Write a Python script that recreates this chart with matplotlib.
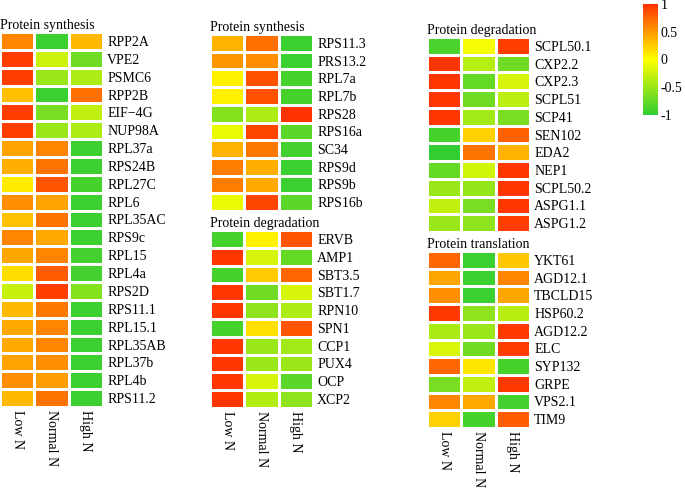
import numpy as np
import matplotlib
matplotlib.use("Agg")
import matplotlib.pyplot as plt
from matplotlib.colors import LinearSegmentedColormap

plt.rcParams['font.family'] = ['Liberation Serif', 'DejaVu Serif']
plt.rcParams['axes.unicode_minus'] = False

# Data
conditions = ["Low N", "Normal N", "High N"]

synth1_genes = ["RPP2A", "VPE2", "PSMC6", "RPP2B", "EIF−4G", "NUP98A", "RPL37a",
                "RPS24B", "RPL27C", "RPL6", "RPL35AC", "RPS9c", "RPL15", "RPL4a",
                "RPS2D", "RPS11.1", "RPL15.1", "RPL35AB", "RPL37b", "RPL4b", "RPS11.2"]
synth1_vals = [[0.60, -0.95, 0.35],
               [0.95, -0.25, -0.70],
               [0.95, -0.50, -0.40],
               [0.32, -0.95, 0.70],
               [0.95, -0.65, -0.30],
               [0.95, -0.50, -0.40],
               [0.45, 0.60, -0.95],
               [0.40, 0.68, -0.95],
               [0.10, 0.83, -0.90],
               [0.55, 0.45, -0.95],
               [0.30, 0.68, -0.95],
               [0.60, 0.42, -0.95],
               [0.44, 0.60, -0.92],
               [0.17, 0.80, -0.92],
               [-0.28, 0.95, -0.60],
               [0.34, 0.65, -0.95],
               [0.42, 0.60, -0.95],
               [0.42, 0.60, -0.95],
               [0.45, 0.55, -0.95],
               [0.55, 0.47, -0.95],
               [0.34, 0.68, -0.95]]

synth2_genes = ["RPS11.3", "PRS13.2", "RPL7a", "RPL7b", "RPS28", "RPS16a",
                "SC34", "RPS9d", "RPS9b", "RPS16b"]
synth2_vals = [[0.37, 0.70, -0.95],
               [0.50, 0.55, -0.95],
               [0.07, 0.85, -0.90],
               [0.07, 0.85, -0.90],
               [-0.60, -0.40, 1.00],
               [-0.10, 0.90, -0.80],
               [0.37, 0.65, -0.92],
               [0.63, 0.40, -0.95],
               [0.63, 0.42, -0.95],
               [-0.10, 0.90, -0.80]]

degr1_genes = ["ERVB", "AMP1", "SBT3.5", "SBT1.7", "RPN10", "SPN1", "CCP1",
               "PUX4", "OCP", "XCP2"]
degr1_vals = [[-0.90, 0.07, 0.83],
              [0.98, -0.20, -0.75],
              [-0.90, 0.25, 0.75],
              [0.98, -0.70, -0.20],
              [0.98, -0.55, -0.40],
              [-0.90, 0.15, 0.83],
              [0.98, -0.50, -0.45],
              [0.98, -0.50, -0.48],
              [0.98, -0.20, -0.80],
              [0.98, -0.38, -0.55]]

degr2_genes = ["SCPL50.1", "CXP2.2", "CXP2.3", "SCPL51", "SCP41", "SEN102",
               "EDA2", "NEP1", "SCPL50.2", "ASPG1.1", "ASPG1.2"]
degr2_vals = [[-0.88, -0.05, 0.95],
              [0.98, -0.35, -0.70],
              [0.98, -0.75, -0.20],
              [0.98, -0.70, -0.33],
              [0.98, -0.45, -0.65],
              [-0.90, 0.22, 0.78],
              [-1.00, 0.68, 0.37],
              [-0.75, -0.22, 0.98],
              [-0.50, -0.52, 0.98],
              [-0.30, -0.65, 0.98],
              [-0.50, -0.55, 0.95]]

trans_genes = ["YKT61", "AGD12.1", "TBCLD15", "HSP60.2", "AGD12.2", "ELC",
               "SYP132", "GRPE", "VPS2.1", "TIM9"]
trans_vals = [[0.75, -0.95, 0.27],
              [0.44, -0.95, 0.60],
              [0.55, -0.95, 0.44],
              [0.97, -0.55, -0.35],
              [-0.42, -0.50, 0.97],
              [-0.18, -0.70, 0.95],
              [0.75, 0.12, -0.90],
              [-0.65, -0.30, 0.97],
              [0.60, 0.42, -0.92],
              [0.22, -0.90, 0.80]]

cbar_ticks = [1, 0.5, 0, -0.5, -1]
cbar_labels = ["1", "0.5", "0", "-0.5", "-1"]

cmap = LinearSegmentedColormap.from_list("gyr", ["#32CD32", "#FFFF00", "#FF3300"])

FS = 10
W, H = 685, 488
fig = plt.figure(figsize=(W / 100, H / 100), dpi=100)


def px_axes(x0, y0, x1, y1):
    # pixel box (top-left origin) -> figure fraction
    return fig.add_axes([x0 / W, 1 - y1 / H, (x1 - x0) / W, (y1 - y0) / H])


def heat(box, title, genes, vals, xlabels=False):
    ax = px_axes(*box)
    data = np.array(vals)
    mesh = ax.pcolormesh(data, cmap=cmap, vmin=-1, vmax=1,
                         edgecolors="white", linewidth=0.9)
    ax.set_xlim(0, data.shape[1])
    ax.set_ylim(data.shape[0], 0)
    for s in ax.spines.values():
        s.set_visible(False)
    ax.yaxis.tick_right()
    ax.set_yticks(np.arange(len(genes)) + 0.5)
    ax.set_yticklabels(genes, fontsize=FS)
    ax.tick_params(axis="y", length=0, pad=3)
    if xlabels:
        ax.set_xticks(np.arange(len(conditions)) + 0.5)
        ax.set_xticklabels(conditions, rotation=-90, fontsize=FS, va="top")
        ax.tick_params(axis="x", length=0, pad=2.5)
    else:
        ax.set_xticks([])
    ax.text(0, 1.0, title, transform=ax.transAxes, ha="left", va="bottom",
            fontsize=FS)
    return mesh


mesh = heat((0, 32, 103, 407), "Protein synthesis", synth1_genes, synth1_vals, True)
heat((210, 34, 313, 211), "Protein synthesis", synth2_genes, synth2_vals)
heat((210, 230, 313, 408), "Protein degradation", degr1_genes, degr1_vals, True)
heat((427, 37, 530, 232), "Protein degradation", degr2_genes, degr2_vals)
heat((427, 251, 530, 428), "Protein translation", trans_genes, trans_vals, True)

cax = px_axes(643, 4, 658, 115)
cb = fig.colorbar(mesh, cax=cax, ticks=cbar_ticks)
cb.ax.set_yticklabels(cbar_labels, fontsize=FS)
cb.ax.tick_params(length=0, pad=2)
cb.outline.set_visible(False)

fig.savefig("out.png", dpi=100)
